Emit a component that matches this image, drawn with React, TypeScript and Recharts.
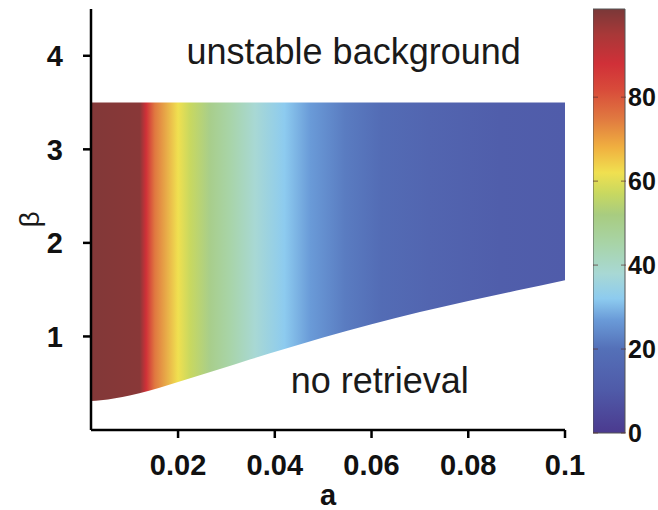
import React from 'react';
import { ComposedChart, Area, XAxis, YAxis, ReferenceDot, BarChart, Bar } from 'recharts';

// Lower boundary of the retrieval region (a -> beta) ; upper edge at beta = 3.5
const boundaryA = [0.002, 0.004, 0.007, 0.01, 0.014, 0.018, 0.022, 0.028, 0.035, 0.042, 0.05, 0.06, 0.07, 0.08, 0.09, 0.1];
const boundaryBeta = [0.31, 0.318, 0.34, 0.37, 0.42, 0.48, 0.545, 0.64, 0.755, 0.865, 0.99, 1.13, 1.26, 1.38, 1.49, 1.6];
const topBeta = 3.5;

// Colour value across a (bands are nearly vertical)
const colorA = [0.002, 0.0121, 0.0134, 0.0152, 0.02, 0.0225, 0.0266, 0.0307, 0.0359, 0.042, 0.0473, 0.0545, 0.062, 0.072, 0.0866, 0.1];
const colorValue = [100, 99, 88, 75, 62, 57, 50, 45, 38, 32, 27, 22, 18, 15, 12, 11];

// Colour map (value -> colour)
const cmapValue = [0, 10, 20, 27, 32, 38, 45, 52, 57, 62, 68, 75, 82, 88, 95, 101];
const cmapColor = ['#4b3a8f', '#4f5aa8', '#5470b8', '#6a9bd8', '#8dcbef', '#a8d8d4', '#a8d4a8', '#a8cc80', '#c8d860', '#f0e050', '#f0b040', '#e07840', '#d84a3a', '#d03038', '#a83838', '#7a3838'];

const xTicks = [0.02, 0.04, 0.06, 0.08, 0.1];
const yTicks = [1, 2, 3, 4];
const cbTicks = [0, 20, 40, 60, 80];
const cbMax = 101;
const xDomain: [number, number] = [0.002, 0.1];
const yDomain: [number, number] = [0, 4.5];

const annotations = [
  { text: 'unstable background', a: 0.0563, beta: 3.91 },
  { text: 'no retrieval', a: 0.0617, beta: 0.4 },
];

const FONT = '"Liberation Sans", Arial, Helvetica, sans-serif';

function hexToRgb(h: string) {
  const n = parseInt(h.slice(1), 16);
  return [(n >> 16) & 255, (n >> 8) & 255, n & 255];
}
function valueToColor(v: number) {
  let i = 0;
  while (i < cmapValue.length - 2 && v > cmapValue[i + 1]) i++;
  const t = Math.max(0, Math.min(1, (v - cmapValue[i]) / (cmapValue[i + 1] - cmapValue[i])));
  const c0 = hexToRgb(cmapColor[i]);
  const c1 = hexToRgb(cmapColor[i + 1]);
  const c = c0.map((x, k) => Math.round(x + (c1[k] - x) * t));
  return `rgb(${c[0]},${c[1]},${c[2]})`;
}

const areaData = boundaryA.map((a, i) => ({ a, range: [boundaryBeta[i], topBeta] }));
const cbData = [{ name: 'cb', v: cbMax }];

const axisStroke = { stroke: '#000', strokeWidth: 2.5 };
const tickFont = { fill: '#111', fontSize: 29, fontWeight: 'bold' as const, fontFamily: FONT };

const AnnotationLabel = (text: string) => (props: any) => {
  const vb = props.viewBox || { x: 0, y: 0, width: 0, height: 0 };
  const cx = vb.x + (vb.width || 0) / 2;
  const cy = vb.y + (vb.height || 0) / 2;
  return (
    <text x={cx} y={cy} textAnchor="middle" fontSize={36} fontFamily={FONT} fill="#1a1a1a">
      {text}
    </text>
  );
};

const XLabel = (props: any) => {
  const vb = props.viewBox || { x: 91, y: 430, width: 474, height: 80 };
  return (
    <text x={vb.x + vb.width / 2} y={vb.y + 75} textAnchor="middle" fontSize={29} fontWeight="bold" fontFamily={FONT} fill="#111">
      a
    </text>
  );
};

const YLabel = (props: any) => {
  const vb = props.viewBox || { x: 0, y: 9, width: 91, height: 421 };
  const x = vb.x + 29;
  const y = vb.y + vb.height / 2;
  return (
    <text x={x} y={y} textAnchor="middle" dominantBaseline="central" fontSize={28} fontFamily={FONT} fill="#1a1a1a" transform={`rotate(-90, ${x}, ${y})`}>
      β
    </text>
  );
};

const CbTick = (props: any) => {
  const { x, y, payload } = props;
  return (
    <g>
      <line x1={x - 35} x2={x - 30} y1={y} y2={y} stroke="#5a3030" strokeWidth={1} opacity={0.7} />
      <line x1={x - 7} x2={x - 2} y1={y} y2={y} stroke="#5a3030" strokeWidth={1} opacity={0.7} />
      <text x={x} y={y} dy="0.36em" textAnchor="start" fontSize={25} fontWeight="bold" fontFamily={FONT} fill="#111">
        {payload.value}
      </text>
    </g>
  );
};

export default function App() {
  return (
    <div style={{ position: 'absolute', left: 0, top: 0, width: 658, height: 510, background: '#fff' }}>
      <div style={{ position: 'absolute', left: 0, top: 0 }}>
        <ComposedChart width={658} height={510} data={areaData} margin={{ top: 9, right: 93, bottom: 0, left: 0 }}>
          <defs>
            <linearGradient id="fieldGrad" x1="0" y1="0" x2="1" y2="0">
              {colorA.map((a, i) => (
                <stop key={i} offset={(a - xDomain[0]) / (xDomain[1] - xDomain[0])} stopColor={valueToColor(colorValue[i])} />
              ))}
            </linearGradient>
          </defs>
          <XAxis
            type="number"
            dataKey="a"
            domain={xDomain}
            ticks={xTicks}
            allowDataOverflow
            height={80}
            axisLine={axisStroke}
            tickLine={axisStroke}
            tickSize={8}
            tickMargin={16}
            tick={tickFont}
            tickFormatter={(v: number) => (v === 0.1 ? '0.1' : v.toFixed(2))}
            label={{ content: XLabel }}
          />
          <YAxis
            type="number"
            domain={yDomain}
            ticks={yTicks}
            allowDataOverflow
            width={91}
            axisLine={axisStroke}
            tickLine={axisStroke}
            tickSize={8}
            tickMargin={20}
            tick={tickFont}
            label={{ content: YLabel }}
          />
          <Area
            dataKey="range"
            type="monotone"
            fill="url(#fieldGrad)"
            fillOpacity={1}
            stroke="none"
            isAnimationActive={false}
          />
          {annotations.map((an) => (
            <ReferenceDot
              key={an.text}
              x={an.a}
              y={an.beta}
              r={1}
              fill="none"
              stroke="none"
              label={{ content: AnnotationLabel(an.text) }}
            />
          ))}
        </ComposedChart>
      </div>
      <div style={{ position: 'absolute', left: 593, top: 0 }}>
        <BarChart width={65} height={510} data={cbData} margin={{ top: 9, right: 0, bottom: 77, left: 0 }} barCategoryGap={0}>
          <defs>
            <linearGradient id="cbGrad" x1="0" y1="1" x2="0" y2="0">
              {cmapValue.map((v, i) => (
                <stop key={i} offset={v / cbMax} stopColor={cmapColor[i]} />
              ))}
            </linearGradient>
          </defs>
          <XAxis dataKey="name" hide />
          <YAxis
            orientation="right"
            type="number"
            domain={[0, cbMax]}
            ticks={cbTicks}
            width={33}
            axisLine={false}
            tickLine={false}
            tickSize={0}
            tickMargin={3}
            tick={<CbTick />}
          />
          <Bar dataKey="v" fill="url(#cbGrad)" stroke="#555" strokeWidth={1} isAnimationActive={false} />
        </BarChart>
      </div>
    </div>
  );
}
